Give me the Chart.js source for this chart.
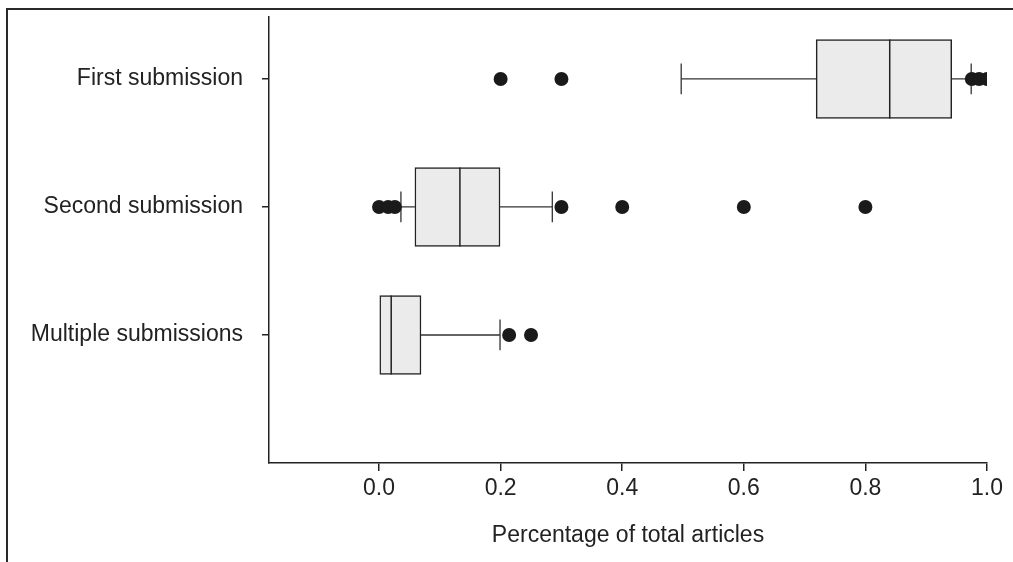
<!DOCTYPE html>
<html>
<head>
<meta charset="utf-8">
<script src="https://cdn.jsdelivr.net/npm/chart.js@4.4.1/dist/chart.umd.min.js"></script>
<style>
  html, body { margin: 0; padding: 0; background: #fff; }
  #wrap { position: relative; width: 1013px; height: 562px; overflow: hidden; }
  #frame { position: absolute; left: 6px; top: 8px; right: -10px; bottom: -10px;
           border-left: 2px solid #2a2a2a; border-top: 2px solid #2a2a2a; pointer-events: none; }
  canvas { position: absolute; left: 0; top: 0; }
</style>
</head>
<body>
<div id="wrap">
  <canvas id="c" width="1013" height="562"></canvas>
  <div id="frame"></div>
</div>
<script>
// ---- data ----
const categories = ['First submission', 'Second submission', 'Multiple submissions'];
const q1 = [0.719, 0.059, 0.0];
const median = [0.840, 0.133, 0.020];
const q3 = [0.942, 0.199, 0.069];
const whiskerLow = [0.497, 0.036, 0.0];
const whiskerHigh = [0.974, 0.285, 0.199];
const outliers = [
  [0.200, 0.300, 0.975, 0.987, 1.000],
  [0.000, 0.015, 0.026, 0.300, 0.400, 0.600, 0.800],
  [0.214, 0.250]
];
const xTicks = [0.0, 0.2, 0.4, 0.6, 0.8, 1.0];
const xTitle = 'Percentage of total articles';

// ---- build datasets ----
const n = categories.length;
const pos = i => n - i;              // category slot on the y axis
const BOX_HALF = 0.309;              // half box height in slot units
const CAP_HALF = 0.12;
const GAP = { x: null, y: null };

const boxData = categories.map((c, i) => ({ y: pos(i), x: [q1[i], q3[i]] }));
const whiskerData = [], capData = [], medianData = [], outlierData = [];
categories.forEach((c, i) => {
  const y = pos(i);
  if (whiskerLow[i] < q1[i]) {
    whiskerData.push({ x: whiskerLow[i], y }, { x: q1[i], y }, GAP);
    capData.push({ x: whiskerLow[i], y: y - CAP_HALF }, { x: whiskerLow[i], y: y + CAP_HALF }, GAP);
  }
  if (whiskerHigh[i] > q3[i]) {
    whiskerData.push({ x: q3[i], y }, { x: whiskerHigh[i], y }, GAP);
    capData.push({ x: whiskerHigh[i], y: y - CAP_HALF }, { x: whiskerHigh[i], y: y + CAP_HALF }, GAP);
  }
  medianData.push({ x: median[i], y: y - BOX_HALF }, { x: median[i], y: y + BOX_HALF }, GAP);
  outliers[i].forEach(v => outlierData.push({ x: v, y }));
});

const INK = '#222';
const FONT = { family: "'Liberation Sans', Arial, sans-serif", size: 23 };

new Chart(document.getElementById('c'), {
  type: 'bar',
  data: {
    datasets: [
      { type: 'bar', indexAxis: 'y', data: boxData, backgroundColor: '#ebebeb',
        borderColor: INK, borderWidth: 1.5, borderSkipped: false, barThickness: 79, order: 5 },
      { type: 'scatter', data: whiskerData, showLine: true, spanGaps: false, borderColor: '#333',
        borderWidth: 1.3, pointRadius: 0, order: 4 },
      { type: 'scatter', data: capData, showLine: true, spanGaps: false, borderColor: '#333',
        borderWidth: 1.3, pointRadius: 0, order: 3 },
      { type: 'scatter', data: medianData, showLine: true, spanGaps: false, borderColor: INK,
        borderWidth: 1.5, pointRadius: 0, order: 2 },
      { type: 'scatter', data: outlierData, showLine: false, pointRadius: 7,
        backgroundColor: '#1a1a1a', borderColor: '#1a1a1a', borderWidth: 0, order: 1 }
    ]
  },
  options: {
    responsive: false,
    animation: false,
    events: [],
    layout: { padding: { left: 0, top: 17, right: 26, bottom: 0 } },
    plugins: { legend: { display: false }, tooltip: { enabled: false } },
    scales: {
      x: {
        type: 'linear', min: -0.181, max: 1.0, offset: false,
        afterBuildTicks: s => { s.ticks = xTicks.map(v => ({ value: v })); },
        afterFit: s => { s.height = 99; s.paddingLeft = 0; s.paddingRight = 0; },
        ticks: { color: INK, font: FONT, padding: 4, maxRotation: 0,
                 callback: v => Number(v).toFixed(1) },
        grid: { offset: false, drawOnChartArea: false, drawTicks: true, tickLength: 8, color: INK, lineWidth: 1.5 },
        border: { display: true, color: INK, width: 1.5 },
        title: { display: true, text: xTitle, color: INK, font: FONT, padding: { top: 0, bottom: 13 } }
      },
      y: {
        type: 'linear', min: 0, max: 3.484, offset: false,
        afterBuildTicks: s => { s.ticks = categories.map((c, i) => ({ value: pos(i) })); },
        afterFit: s => { s.width = 269; s.paddingTop = 0; s.paddingBottom = 0; },
        ticks: { color: INK, font: FONT, padding: 19,
                 callback: v => categories[n - v] },
        grid: { offset: false, drawOnChartArea: false, drawTicks: true, tickLength: 7, color: INK, lineWidth: 1.5 },
        border: { display: true, color: INK, width: 1.5 }
      }
    }
  }
});
</script>
</body>
</html>
